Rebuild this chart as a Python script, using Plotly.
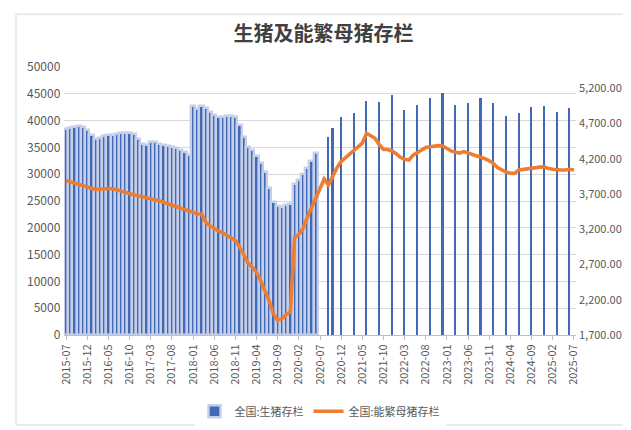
import pandas as pd
import plotly.graph_objects as go

# months on the category axis
months = [d.strftime("%Y-%m") for d in pd.date_range("2015-07-01", "2025-07-01", freq="MS")]
tick_labels = months[::5]

# 全国:生猪存栏 - monthly until 2020-06, quarterly afterwards
hog_monthly_months = months[:60]
hog_monthly = [
    38440, 38630, 38810, 38940, 38750, 38310, 37310, 36560, 36750, 37190,
    37250, 37380, 37500, 37630, 37630, 37630, 37440, 36560, 35630, 35380,
    35940, 35940, 35690, 35440, 35190, 35000, 34880, 34500, 34130, 33560,
    42810, 42190, 42750, 42380, 41560, 41130, 40690, 40750, 40810, 40810,
    40630, 39190, 36880, 35000, 34500, 33440, 32000, 30440, 27500, 24810,
    24060, 23880, 24250, 24380, 28130, 28880, 30000, 31250, 32380, 33880,
]
hog_quarter_months = [
    "2020-09", "2020-10", "2020-12", "2021-03", "2021-06", "2021-09", "2021-12",
    "2022-03", "2022-06", "2022-09", "2022-12", "2023-03", "2023-06", "2023-09",
    "2023-12", "2024-03", "2024-06", "2024-09", "2024-12", "2025-03", "2025-06",
]
hog_quarter = [
    37000, 38620, 40610, 41430, 43740, 43560, 44810,
    42060, 42930, 44180, 45180, 42930, 43310, 44180,
    43310, 40810, 41430, 42490, 42680, 41680, 42300,
]

# 全国:能繁母猪存栏 - monthly
sow = [
    3890, 3870, 3850, 3835, 3820, 3800, 3780, 3765, 3765, 3770,
    3780, 3775, 3760, 3740, 3720, 3700, 3690, 3675, 3660, 3645,
    3630, 3620, 3610, 3585, 3560, 3540, 3515, 3495, 3475, 3455,
    3430, 3420, 3415, 3300, 3250, 3210, 3175, 3150, 3110, 3080,
    3040, 2950, 2820, 2720, 2660, 2590, 2470, 2330, 2180, 2000,
    1910, 1930, 1990, 2030, 3080, 3130, 3210, 3370, 3500, 3650,
    3780, 3910, 3830, 3960, 4070, 4160, 4210, 4270, 4310, 4360,
    4420, 4560, 4530, 4490, 4400, 4330, 4330, 4310, 4270, 4220,
    4190, 4180, 4250, 4290, 4330, 4360, 4370, 4380, 4385, 4380,
    4345, 4310, 4290, 4280, 4300, 4280, 4260, 4245, 4230, 4200,
    4170, 4130, 4070, 4040, 4010, 3995, 3990, 4040, 4050, 4055,
    4065, 4075, 4080, 4085, 4060, 4050, 4040, 4040, 4040, 4050,
    4040,
]

hog = dict(zip(hog_monthly_months, hog_monthly))
hog.update(zip(hog_quarter_months, hog_quarter))
hog_values = [hog.get(m) for m in months]

# monthly part has a pale glow between bars, quarterly part is plain thin bars
is_monthly = [m in hog_monthly_months for m in months]
bar_width = [1.0 if f else 0.38 for f in is_monthly]
bar_line = [2.4 if f else 0 for f in is_monthly]

FONT = "Noto Sans CJK SC"
GREY = "#595959"

TOP, BOTTOM = 59, 97
plot_h = 430 - TOP - BOTTOM

fig = go.Figure()
fig.add_trace(go.Bar(
    x=months, y=hog_values, name="全国:生猪存栏",
    marker=dict(color="#4169b5", line=dict(color="#c6cfe9", width=bar_line)),
    width=bar_width,
))
fig.add_trace(go.Scatter(
    x=months, y=sow, name="全国:能繁母猪存栏", yaxis="y2",
    mode="lines", line=dict(color="#ed7d31", width=3.6),
))

fig.update_layout(
    width=631, height=430,
    margin=dict(l=56, r=63, t=TOP, b=BOTTOM),
    paper_bgcolor="white", plot_bgcolor="white",
    font=dict(family=FONT, color=GREY, size=11),
    title=dict(text="<b>生猪及能繁母猪存栏</b>", x=0.5, xanchor="center",
               y=1 - 26 / 430, yanchor="middle", yref="container",
               font=dict(size=20, color="#404040", family=FONT)),
    bargap=0,
    showlegend=True,
    legend=dict(orientation="h", x=0.5, xanchor="center",
                y=(333 - 411) / plot_h, yanchor="middle",
                font=dict(size=11, color=GREY), itemwidth=30),
    xaxis=dict(type="category", categoryorder="array", categoryarray=months,
               tickmode="array", tickvals=tick_labels, ticktext=tick_labels,
               tickangle=-90, tickfont=dict(size=11, color=GREY),
               showgrid=False, showline=True, linecolor="#bfbfbf",
               ticks="outside", ticklen=4, tickcolor="#bfbfbf"),
    yaxis=dict(range=[0, 50000], dtick=5000, tickformat="d", showgrid=True,
               gridcolor="#d9d9d9", tickfont=dict(size=12, color=GREY),
               zeroline=False, ticksuffix=" "),
    yaxis2=dict(overlaying="y", side="right", range=[1700, 5500], tick0=1700, dtick=500,
                tickformat=",.2f", showgrid=False, zeroline=False,
                tickfont=dict(size=11, color=GREY), ticklabelstandoff=2),
    shapes=[dict(type="rect", xref="paper", yref="paper",
                 x0=(8 - 56) / 512, x1=(625 - 56) / 512,
                 y0=(333 - 425) / plot_h, y1=(333 - 5) / plot_h,
                 line=dict(color="#d9d9d9", width=1), layer="below")],
)

fig.write_html("out.html")
